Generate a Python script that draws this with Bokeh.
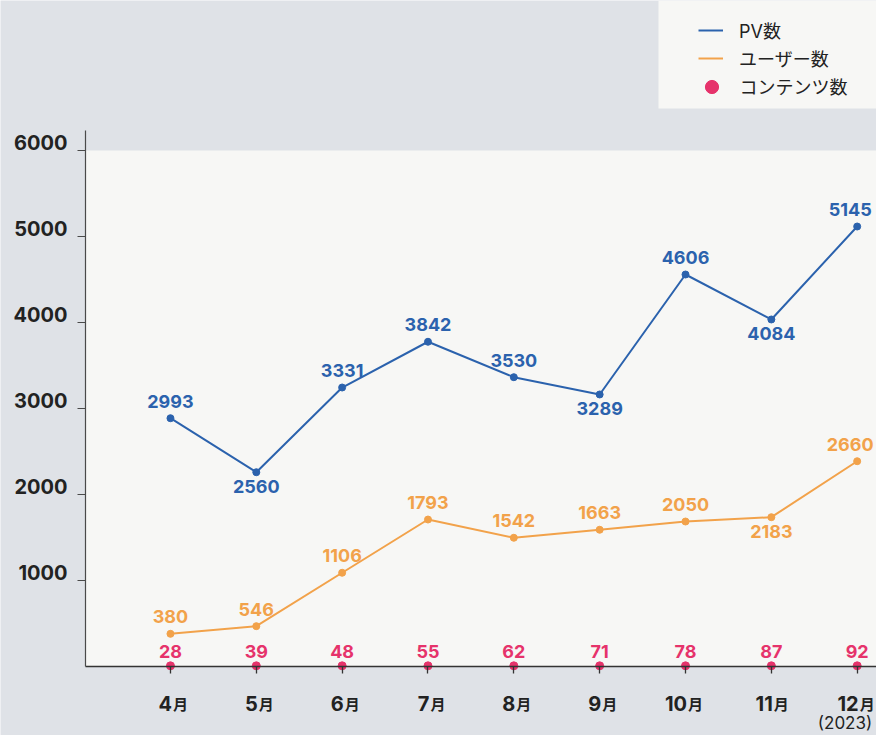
from bokeh.plotting import figure
from bokeh.models import (ColumnDataSource, LabelSet, Label, Legend, LegendItem,
                          BoxAnnotation, FixedTicker)
from bokeh.core.properties import value
from bokeh.embed import file_html
from bokeh.resources import INLINE

# ---------------- data ----------------
month_numbers = ["4", "5", "6", "7", "8", "9", "10", "11", "12"]
month_suffix = "月"
year_note = "(2023)"
series_names = ["PV数", "ユーザー数", "コンテンツ数"]

# plotted positions (as drawn) and the annotated numbers
pv_values = [2887, 2259, 3244, 3776, 3364, 3163, 4558, 4035, 5116]
pv_labels = [2993, 2560, 3331, 3842, 3530, 3289, 4606, 4084, 5145]
user_values = [380, 469, 1090, 1709, 1497, 1590, 1686, 1736, 2387]
user_labels = [380, 546, 1106, 1793, 1542, 1663, 2050, 2183, 2660]
content_values = [8, 8, 8, 8, 8, 8, 8, 8, 8]
content_labels = [28, 39, 48, 55, 62, 71, 78, 87, 92]

y_ticks = [1000, 2000, 3000, 4000, 5000, 6000]

# label placement (style): indices whose value label sits below the point
pv_below = [1, 5, 7]
user_below = [7]

# ---------------- style ----------------
BLUE = "#2b62ad"
ORANGE = "#f2a24a"
PINK = "#e6336b"
TEXT = "#222222"
OUTER = "#dfe2e7"
INNER = "#f7f7f5"
FONT = "Inter, 'Noto Sans CJK JP'"

W, H = 876, 735
x = list(range(len(month_numbers)))
X_LEFT = -0.9902          # position of the vertical axis
Y_TOP_AXIS = 6233         # top end of the vertical axis line

p = figure(width=W, height=H, output_backend="svg", toolbar_location=None,
           x_range=(-1.980, 8.225), y_range=(-802.3, 7744),
           min_border_left=0, min_border_right=0, min_border_top=0,
           min_border_bottom=0)
p.background_fill_color = OUTER
p.border_fill_color = OUTER
p.outline_line_color = None
p.xgrid.visible = False
p.ygrid.visible = False

# light plotting area
p.add_layout(BoxAnnotation(left=X_LEFT, bottom=0, top=y_ticks[-1],
                           fill_color=INNER, fill_alpha=1, line_alpha=0,
                           level="underlay"))
# legend panel
p.add_layout(BoxAnnotation(left=658, bottom=H - 108, left_units="screen",
                           bottom_units="screen", fill_color=INNER, fill_alpha=1,
                           line_alpha=0, level="underlay"))

# axes (drawn inside the frame at fixed locations)
yax = p.yaxis[0]
yax.fixed_location = X_LEFT
yax.ticker = FixedTicker(ticks=y_ticks)
yax.bounds = (0, Y_TOP_AXIS)
yax.axis_line_color = "#4a4a4a"
yax.axis_line_width = 1.2
yax.major_tick_line_color = "#4a4a4a"
yax.major_tick_line_width = 1.2
yax.major_tick_out = 8
yax.major_tick_in = 0
yax.minor_tick_line_color = None
yax.major_label_text_alpha = 0

xax = p.xaxis[0]
xax.fixed_location = 0
xax.ticker = FixedTicker(ticks=x)
xax.bounds = (X_LEFT, 8.225)
xax.axis_line_color = "#333333"
xax.axis_line_width = 1.5
xax.major_tick_line_color = "#333333"
xax.major_tick_line_width = 1.3
xax.major_tick_out = 7
xax.major_tick_in = 0
xax.minor_tick_line_color = None
xax.major_label_text_alpha = 0

# y tick labels
ysrc = ColumnDataSource(dict(y=y_ticks, text=[str(t) for t in y_ticks]))
p.add_layout(LabelSet(x=X_LEFT, y="y", text="text", source=ysrc,
                      x_offset=-18, y_offset=8, text_align="right",
                      text_baseline="middle", text_font=value(FONT),
                      text_font_style="bold", text_font_size="20px",
                      text_color=TEXT))

# x tick labels
xsrc = ColumnDataSource(dict(x=x, y=[0] * len(x), num=month_numbers,
                             suf=[month_suffix] * len(x)))
p.add_layout(LabelSet(x="x", y="y", text="num", source=xsrc,
                      x_offset=1.5, y_offset=-37, text_align="right",
                      text_baseline="middle", text_font=value(FONT),
                      text_font_style="bold", text_font_size="20px",
                      text_color=TEXT))
p.add_layout(LabelSet(x="x", y="y", text="suf", source=xsrc,
                      x_offset=2.5, y_offset=-37, text_align="left",
                      text_baseline="middle",
                      text_font=value("Noto Sans CJK JP"),
                      text_font_style="bold", text_font_size="15px",
                      text_color=TEXT))
p.add_layout(Label(x=x[-1], y=0, text=year_note, x_offset=15, y_offset=-56,
                   text_align="right", text_baseline="middle",
                   text_font=FONT, text_font_size="17px", text_color=TEXT))

# series
last = len(x) - 1
pv_src = ColumnDataSource(dict(x=x, y=pv_values, text=[str(v) for v in pv_labels],
                               off=[-14 if i in pv_below else 17 for i in x],
                               dx=[-7 if i == last else 0 for i in x]))
user_src = ColumnDataSource(dict(x=x, y=user_values,
                                 text=[str(v) for v in user_labels],
                                 off=[-14 if i in user_below else 17 for i in x],
                                 dx=[-7 if i == last else 0 for i in x]))
cont_src = ColumnDataSource(dict(x=x, y=content_values,
                                 text=[str(v) for v in content_labels]))

pv_line = p.line("x", "y", source=pv_src, line_color=BLUE, line_width=2)
p.scatter("x", "y", source=pv_src, size=7, fill_color=BLUE, line_color=BLUE)
user_line = p.line("x", "y", source=user_src, line_color=ORANGE, line_width=2)
p.scatter("x", "y", source=user_src, size=7, fill_color=ORANGE, line_color=ORANGE)
cont_dots = p.scatter("x", "y", source=cont_src, size=8, fill_color=PINK,
                      line_color=PINK)

for src, col in ((pv_src, BLUE), (user_src, ORANGE)):
    p.add_layout(LabelSet(x="x", y="y", text="text", source=src,
                          x_offset="dx", y_offset="off",
                          text_align="center", text_baseline="middle",
                          text_font=value(FONT), text_font_style="bold",
                          text_font_size="18px", text_color=col))
p.add_layout(LabelSet(x="x", y="y", text="text", source=cont_src, y_offset=14,
                      text_align="center", text_baseline="middle",
                      text_font=value(FONT), text_font_style="bold",
                      text_font_size="18px", text_color=PINK))

# legends: one for the two lines, one for the dot (larger glyph box)
common = dict(padding=0, margin=0, label_text_font=FONT,
              label_text_font_size="18px", label_text_color=TEXT,
              background_fill_alpha=0, border_line_alpha=0)
legend_lines = Legend(items=[LegendItem(label=series_names[0], renderers=[pv_line]),
                             LegendItem(label=series_names[1], renderers=[user_line])],
                      location=(698, H - 71), spacing=2, glyph_width=25,
                      glyph_height=26, label_height=26, label_standoff=16, **common)
legend_dot = Legend(items=[LegendItem(label=series_names[2], renderers=[cont_dots])],
                    location=(694.5, H - 102.5), spacing=0, glyph_width=33,
                    glyph_height=33, label_height=33, label_standoff=12, **common)
p.add_layout(legend_lines)
p.add_layout(legend_dot)

open("out.html", "w").write(file_html(p, INLINE))
